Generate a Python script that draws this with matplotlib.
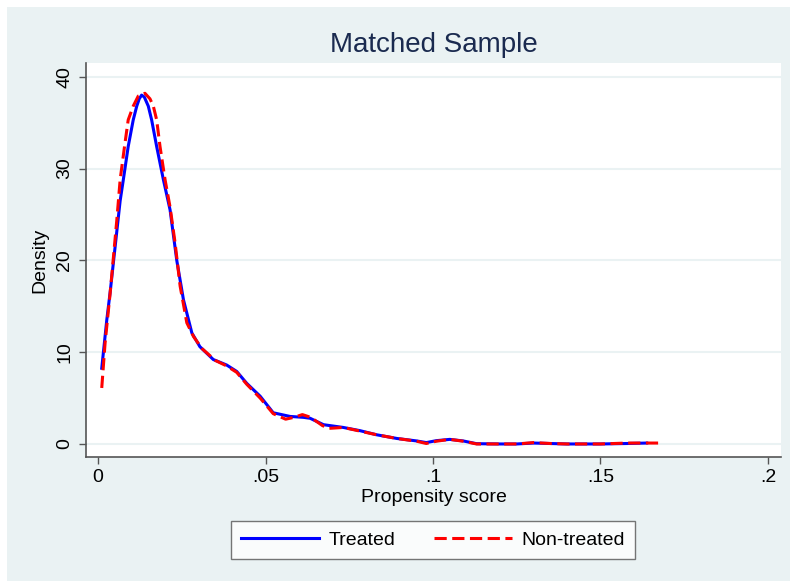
import matplotlib.pyplot as plt
from matplotlib.patches import Rectangle

# density estimates
treated_x = [0.0011, 0.0026, 0.0036, 0.0051, 0.0066, 0.00755, 0.009, 0.0105, 0.01155, 0.0123,
             0.013, 0.0138, 0.015, 0.016, 0.0175, 0.0195, 0.0215, 0.0235, 0.0255, 0.028,
             0.0304, 0.0344, 0.0384, 0.0414, 0.0444, 0.0484, 0.0523, 0.0573, 0.0613, 0.0633,
             0.0673, 0.0732, 0.0782, 0.0832, 0.0892, 0.0951, 0.098, 0.101, 0.105, 0.109,
             0.113, 0.12, 0.125, 0.13, 0.135, 0.14, 0.15, 0.158, 0.1638]
treated_y = [8.25, 13.5, 16.5, 21.5, 26.5, 28.8, 32.4, 35.3, 36.8, 37.6,
             38.0, 37.8, 36.8, 35.3, 32.4, 28.8, 25.5, 20.0, 15.7, 12.1,
             10.6, 9.2, 8.6, 7.9, 6.6, 5.2, 3.4, 3.0, 2.9, 2.8,
             2.1, 1.8, 1.45, 1.0, 0.6, 0.33, 0.15, 0.36, 0.5, 0.33,
             0.03, 0.0, 0.0, 0.1, 0.05, 0.0, 0.0, 0.05, 0.1]

control_x = [0.0011, 0.0021, 0.0036, 0.0056, 0.0066, 0.0079, 0.009, 0.0105, 0.012, 0.014,
             0.0155, 0.0165, 0.0175, 0.0185, 0.02, 0.0215, 0.023, 0.0245, 0.0265, 0.0285,
             0.031, 0.035, 0.0384, 0.0414, 0.0444, 0.0484, 0.0523, 0.056, 0.0585, 0.061,
             0.0635, 0.067, 0.069, 0.0732, 0.0782, 0.0832, 0.0892, 0.0951, 0.098, 0.101,
             0.105, 0.109, 0.113, 0.12, 0.125, 0.13, 0.135, 0.14, 0.15, 0.158, 0.1678]
control_y = [6.1, 11.0, 16.4, 24.4, 28.8, 32.4, 35.3, 36.8, 37.9, 38.2,
             37.6, 36.8, 35.3, 32.4, 28.8, 25.8, 21.9, 17.2, 13.2, 11.7,
             10.4, 9.1, 8.5, 7.8, 6.5, 5.0, 3.3, 2.7, 2.9, 3.2,
             2.9, 2.0, 1.7, 1.8, 1.4, 1.0, 0.6, 0.3, 0.05, 0.3,
             0.5, 0.3, 0.0, 0.0, 0.0, 0.15, 0.05, 0.0, 0.0, 0.1, 0.1]

xticks = [0, 0.05, 0.1, 0.15, 0.2]
xtick_labels = ["0", ".05", ".1", ".15", ".2"]
yticks = [0, 10, 20, 30, 40]

bg = "#eaf2f3"
plt.rcParams["font.family"] = ["Liberation Sans", "DejaVu Sans"]

fig = plt.figure(figsize=(7.9, 5.81), dpi=100, facecolor="white")
# light graph region, offset so a thin white strip shows at top and left
fig.patches.append(Rectangle((7 / 790, 0), 783 / 790, 574 / 581,
                             transform=fig.transFigure, facecolor=bg,
                             edgecolor="none", zorder=-10))

ax = fig.add_axes([86 / 790, 1 - 457 / 581, 695 / 790, 394 / 581])
ax.set_facecolor("white")

ax.plot(treated_x, treated_y, color="#0000ff", lw=2.2, label="Treated")
ax.plot(control_x, control_y, color="#ff0000", lw=2.2, dashes=(4, 1.8),
        label="Non-treated")

ax.set_xlim(-0.0036, 0.2039)
ax.set_ylim(-1.42, 41.5)
ax.set_xticks(xticks)
ax.set_xticklabels(xtick_labels)
ax.set_yticks(yticks)
ax.set_yticklabels([str(t) for t in yticks], rotation=90, va="center")
ax.grid(axis="y", color=bg, lw=1.5)
ax.set_axisbelow(True)

for s in ["top", "right"]:
    ax.spines[s].set_visible(False)
for s in ["left", "bottom"]:
    ax.spines[s].set_color("#555555")
    ax.spines[s].set_linewidth(1.2)
ax.tick_params(direction="out", length=5, width=1, color="#555555",
               labelsize=14, labelcolor="black", pad=4)

ax.set_xlabel("Propensity score", fontsize=14, labelpad=2)
ax.set_ylabel("Density", fontsize=14, labelpad=6)
ax.set_title("Matched Sample", fontsize=20, color="#1a2a4f", pad=8)

leg = fig.legend(loc="center", bbox_to_anchor=(433 / 790, 1 - 540 / 581), ncol=2,
                 fontsize=14, frameon=True, fancybox=False, handlelength=4,
                 handletextpad=0.5, columnspacing=2, borderpad=0.5)
leg.get_frame().set_edgecolor("#555555")
leg.get_frame().set_linewidth(1)

fig.savefig("out.png", dpi=100, facecolor="white")
